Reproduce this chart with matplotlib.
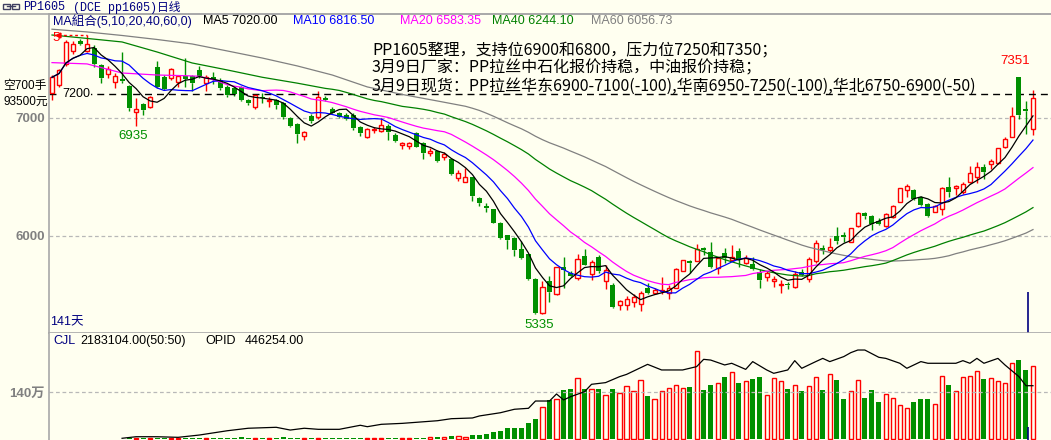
import numpy as np
import pandas as pd
import matplotlib.pyplot as plt
from matplotlib.patches import Rectangle
from matplotlib.lines import Line2D

W, H = 1051, 440
BG = '#FFFFF0'
RED = '#FF0000'
GRN = '#009000'
NAVY = '#000080'
GRID = '#B8B8B8'

plt.rcParams['font.family'] = ['Liberation Sans', 'Noto Sans CJK SC']

# ---- daily candles (141 days) ----
opens = [7214, 7280, 7455, 7568, 7652, 7570, 7591, 7449, 7373, 7308,
         7330, 7271, 7049, 7119, 7090, 7435, 7350, 7336, 7308, 7356,
         7356, 7407, 7294, 7345, 7322, 7260, 7250, 7260, 7152, 7096,
         7180, 7145, 7152, 7125, 6997, 6949, 6850, 7020, 7006, 7172,
         7080, 7040, 7025, 7025, 6921, 6836, 6895, 6893, 6932, 6856,
         6772, 6763, 6870, 6786, 6701, 6723, 6667, 6652, 6494, 6460,
         6497, 6325, 6250, 6226, 6113, 6008, 5986, 5890, 5847, 5636,
         5345, 5619, 5508, 5735, 5689, 5641, 5830, 5675, 5825, 5621,
         5585, 5415, 5418, 5443, 5424, 5557, 5514, 5530, 5514, 5562,
         5706, 5790, 5791, 5895, 5867, 5726, 5859, 5797, 5876, 5769,
         5763, 5698, 5650, 5622, 5586, 5592, 5570, 5698, 5633, 5791,
         5895, 5881, 6000, 6008, 5952, 6085, 6192, 6169, 6130, 6085,
         6164, 6291, 6390, 6390, 6328, 6271, 6206, 6226, 6418, 6404,
         6376, 6460, 6497, 6582, 6610, 6616, 6752, 6842, 7345, 7076,
         6904]
highs = [7360, 7415, 7660, 7650, 7665, 7700, 7620, 7460, 7440, 7380,
         7560, 7280, 7170, 7130, 7185, 7485, 7360, 7420, 7365, 7506,
         7360, 7440, 7360, 7390, 7340, 7280, 7260, 7275, 7160, 7205,
         7210, 7180, 7160, 7135, 7010, 6960, 6890, 7030, 7231, 7190,
         7090, 7050, 7040, 7040, 6930, 6915, 6925, 6997, 6945, 6870,
         6800, 6800, 6880, 6800, 6745, 6730, 6710, 6660, 6560, 6580,
         6500, 6330, 6280, 6230, 6115, 6010, 5990, 5960, 5850, 5640,
         5615, 5660, 5735, 5820, 5700, 5850, 5890, 5800, 5835, 5750,
         5605, 5460, 5490, 5505, 5535, 5600, 5555, 5650, 5585, 5725,
         5800, 5800, 5930, 5910, 5950, 5825, 5895, 5925, 5895, 5840,
         5825, 5720, 5700, 5665, 5625, 5610, 5700, 5720, 5820, 5970,
         5925, 5985, 6080, 6030, 6070, 6200, 6205, 6175, 6155, 6195,
         6265, 6410, 6440, 6400, 6340, 6280, 6265, 6415, 6500, 6430,
         6460, 6590, 6625, 6610, 6650, 6745, 6835, 7090, 7351, 7147,
         7237]
lows = [7150, 7265, 7440, 7545, 7620, 7560, 7430, 7300, 7340, 7250,
        7300, 7060, 6935, 7025, 7085, 7250, 7235, 7320, 7260, 7260,
        7230, 7340, 7230, 7290, 7240, 7180, 7190, 7140, 7110, 7080,
        7130, 7095, 7075, 6995, 6925, 6785, 6810, 6960, 6995, 7140,
        7030, 7000, 6980, 6900, 6850, 6830, 6870, 6885, 6810, 6800,
        6740, 6740, 6750, 6652, 6680, 6630, 6640, 6520, 6470, 6460,
        6300, 6250, 6205, 6110, 5978, 5887, 5830, 5805, 5630, 5335,
        5340, 5440, 5500, 5560, 5650, 5630, 5750, 5630, 5690, 5550,
        5390, 5370, 5370, 5400, 5360, 5505, 5505, 5510, 5465, 5555,
        5700, 5690, 5785, 5840, 5725, 5680, 5770, 5790, 5740, 5765,
        5710, 5560, 5620, 5570, 5520, 5550, 5555, 5660, 5610, 5775,
        5850, 5855, 5930, 5945, 5945, 6080, 6140, 6050, 6090, 6080,
        6155, 6285, 6330, 6305, 6250, 6160, 6200, 6180, 6330, 6345,
        6355, 6450, 6450, 6480, 6570, 6610, 6745, 6835, 6990, 6864,
        6856]
closes = [7345, 7407, 7647, 7625, 7630, 7627, 7455, 7336, 7415, 7356,
          7316, 7082, 7074, 7070, 7180, 7260, 7243, 7413, 7356, 7328,
          7300, 7356, 7345, 7320, 7252, 7195, 7200, 7152, 7130, 7195,
          7165, 7155, 7110, 7006, 6935, 6862, 6879, 6975, 7180, 7152,
          7040, 7010, 6990, 6912, 6876, 6904, 6905, 6941, 6884, 6808,
          6786, 6786, 6757, 6701, 6723, 6636, 6695, 6525, 6536, 6503,
          6342, 6277, 6237, 6113, 5980, 5966, 5881, 5811, 5636, 5350,
          5565, 5528, 5735, 5710, 5660, 5802, 5754, 5777, 5700, 5712,
          5396, 5449, 5463, 5480, 5514, 5514, 5543, 5540, 5562, 5718,
          5794, 5772, 5887, 5880, 5735, 5811, 5811, 5825, 5803, 5811,
          5720, 5627, 5684, 5632, 5597, 5583, 5678, 5672, 5802, 5943,
          5882, 5909, 5960, 5990, 6065, 6192, 6166, 6102, 6105, 6186,
          6254, 6404, 6424, 6311, 6263, 6169, 6250, 6404, 6370, 6424,
          6441, 6537, 6582, 6545, 6633, 6743, 6819, 7017, 7025, 7060,
          7167]
volumes = [0, 0, 0, 0, 0, 0, 0, 0, 0, 0,
           0, 15000, 25000, 25000, 20000, 25000, 25000, 20000, 20000, 25000,
           25000, 30000, 30000, 30000, 30000, 30000, 35000, 65000, 35000, 30000,
           25000, 30000, 40000, 55000, 35000, 30000, 25000, 30000, 30000, 30000,
           30000, 30000, 30000, 30000, 30000, 30000, 30000, 30000, 30000, 30000,
           30000, 30000, 30000, 35000, 60000, 70000, 50000, 90000, 90000, 55000,
           120000, 120000, 150000, 200000, 250000, 340000, 340000, 340000, 467000, 596000,
           943000, 1160000, 1190000, 1460000, 1490000, 1810000, 1490000, 1480000, 1490000, 1310000,
           1490000, 1380000, 1580000, 1430000, 1760000, 1280000, 1190000, 1430000, 1510000, 1610000,
           1510000, 1550000, 2620000, 1460000, 1610000, 1670000, 1850000, 2000000, 1680000, 1730000,
           1790000, 1850000, 1300000, 1810000, 1730000, 1490000, 1600000, 1430000, 1580000, 1840000,
           1460000, 1940000, 1760000, 1190000, 1430000, 1750000, 1220000, 1460000, 1100000, 1340000,
           1220000, 1010000, 910000, 1100000, 1190000, 1190000, 1040000, 1880000, 1610000, 1430000,
           1850000, 1880000, 2030000, 1790000, 1820000, 1730000, 1670000, 2260000, 2350000, 2060000,
           2183104]

# long MAs before enough days are on screen
ma20_head_idx = [0, 5, 10, 15]
ma20_head = [7469, 7458, 7381, 7364]
ma40_head_idx = [0, 5, 10, 15, 20, 25, 30, 35]
ma40_head = [7703, 7674, 7644, 7559, 7466, 7407, 7345, 7295]
ma60_head_idx = [0, 5, 10, 15, 20, 25, 30, 35, 40, 45, 50, 55]
ma60_head = [7752, 7729, 7699, 7665, 7627, 7568, 7508, 7441, 7364, 7263, 7199, 7144]

# open interest (OPID)
opid_idx = [10, 12, 15, 18, 21, 25, 28, 32, 34, 36, 38, 41, 44, 45, 47, 50, 55, 57, 60, 61,
            64, 66, 68, 69, 71, 72, 73, 74, 76, 77, 79, 81, 82, 85, 87, 90, 92, 93, 94, 96,
            97, 99, 100, 102, 103, 105, 106, 107, 109, 110, 111, 113, 114, 115, 116, 118, 119, 121, 122, 124,
            125, 127, 129, 130, 131, 132, 133, 135, 136, 138, 139, 140]
opid_val = [6000, 19000, 19000, 14000, 33000, 69000, 90000, 98000, 75000, 90000,
            81000, 81000, 115000, 103000, 123000, 131000, 153000, 170000, 176000, 193000,
            220000, 249000, 257000, 318000, 318000, 377000, 327000, 354000, 396000, 458000,
            472000, 522000, 541000, 625000, 578000, 578000, 606000, 667000, 661000, 620000,
            634000, 583000, 648000, 578000, 550000, 578000, 656000, 592000, 648000, 675000,
            648000, 690000, 723000, 745000, 745000, 684000, 675000, 634000, 592000, 648000,
            634000, 634000, 634000, 656000, 634000, 675000, 634000, 675000, 620000, 522000,
            446254, 446254]

o = np.array(opens, float)
h = np.array(highs, float)
l = np.array(lows, float)
c = np.array(closes, float)
v = np.array(volumes, float)
n = len(c)
x = np.arange(n)
up = c >= o

cs = pd.Series(c)
ma5 = cs.rolling(5, min_periods=1).mean()
ma10 = cs.rolling(10, min_periods=1).mean()


def long_ma(win, head_idx, head_vals):
    m = cs.rolling(win).mean()
    xs = list(head_idx) + list(range(win - 1, n))
    ys = list(head_vals) + list(m.iloc[win - 1:])
    return xs, ys


fig = plt.figure(figsize=(W / 100, H / 100), dpi=100, facecolor=BG)

x0, x1 = 49, 1051
top, sep = 14, 332.5
ax = fig.add_axes([x0 / W, 1 - sep / H, (x1 - x0) / W, (sep - top) / H], facecolor=BG)
axv = fig.add_axes([x0 / W, 0, (x1 - x0) / W, (H - sep) / H], facecolor=BG)

xl = ((x0 - 52) / 7.007, (x1 - 52) / 7.007)
for a in (ax, axv):
    a.set_xlim(*xl)
    a.set_xticks([])
    for s in ('top', 'right', 'bottom'):
        a.spines[s].set_visible(False)
    a.spines['left'].set_color('#A8A8A8')
    a.spines['left'].set_linewidth(1.2)

ax.spines['bottom'].set_visible(True)
ax.spines['bottom'].set_color('#A8A8A8')
ax.spines['bottom'].set_linewidth(1.2)
ax.spines['top'].set_visible(True)
ax.spines['top'].set_color('#A8A8A8')
ax.spines['top'].set_linewidth(1.2)

ax.set_ylim(5182, 7881)
ax.set_yticks([6000, 7000])
ax.set_yticklabels(['6000', '7000'], fontweight='bold', fontsize=9.5)
axv.set_ylim(-30000, 3172000)
axv.set_yticks([1400000])
axv.set_yticklabels(['140万'], fontweight='bold', fontsize=9.5)
for a in (ax, axv):
    a.tick_params(axis='y', length=0, pad=3, labelcolor='#808080')
    a.grid(axis='y', color=GRID, lw=0.9, dashes=(3, 2.2))

# candles
col = np.where(up, RED, GRN)
bhi = np.maximum(o, c)
blo = np.minimum(o, c)
bh = np.maximum(bhi - blo, 7)
ax.vlines(x, bhi, h, colors=col, lw=1)
ax.vlines(x, l, blo, colors=col, lw=1)
ax.vlines(x[~up], blo[~up], bhi[~up], colors=GRN, lw=1)
ax.bar(x[up], bh[up], bottom=blo[up], width=0.58, facecolor=BG, edgecolor=RED, linewidth=1, zorder=3)
ax.bar(x[~up], bh[~up], bottom=blo[~up], width=0.72, color=GRN, linewidth=0, zorder=3)

# moving averages
xs60, ys60 = long_ma(60, ma60_head_idx, ma60_head)
xs40, ys40 = long_ma(40, ma40_head_idx, ma40_head)
xs20, ys20 = long_ma(20, ma20_head_idx, ma20_head)
ax.plot(xs60, ys60, color='#808080', lw=0.9, zorder=4)
ax.plot(xs40, ys40, color='#008000', lw=0.9, zorder=4)
ax.plot(xs20, ys20, color='#FF00FF', lw=0.9, zorder=4)
ax.plot(x, ma10, color='#0000FF', lw=0.9, zorder=4)
ax.plot(x, ma5, color='black', lw=0.9, zorder=4)

# 7200 line
ax.axhline(7200, color='black', lw=1, dashes=(5, 3.6), zorder=2)
ax.text(0.013, 7200, '7200', transform=ax.get_yaxis_transform(), fontsize=9,
        va='center', ha='left', bbox=dict(facecolor=BG, edgecolor='none', pad=0.5), zorder=5)

# high / low marks
ax.annotate('7351', (138, h[138]), xytext=(-3, 7), textcoords='offset points',
            ha='center', va='bottom', color=RED, fontsize=9.5)
ax.annotate('6935', (12, l[12]), xytext=(-2, -3), textcoords='offset points',
            ha='center', va='top', color=GRN, fontsize=9.5)
ax.annotate('5335', (69, l[69]), xytext=(3, -3), textcoords='offset points',
            ha='center', va='top', color=GRN, fontsize=9.5)
ax.plot([0.9, 5], [h[5], h[5]], color=RED, lw=1, dashes=(2, 2), zorder=5)
ax.plot([0.9], [h[5]], marker='<', color=RED, ms=3.5, zorder=5)

# cursor
cur = 139.3
ax.vlines(cur, 5182, 5525, colors=NAVY, lw=1.2)
axv.vlines(cur, -30000, 360000, colors=NAVY, lw=1.2)

# volume + open interest
m_up = up & (v > 0)
m_dn = (~up) & (v > 0)
axv.bar(x[m_up], v[m_up], width=0.6, facecolor=BG, edgecolor=RED, linewidth=1)
axv.bar(x[m_dn], v[m_dn], width=0.72, color=GRN, linewidth=0)
axo = axv.twinx()
axo.set_ylim(-8373, 891700)
axo.set_xlim(*xl)
axo.axis('off')
axo.plot(opid_idx, opid_val, color='black', lw=0.9)


def put(px, py, s, **kw):
    kw.setdefault('fontsize', 9)
    fig.text(px / W, 1 - py / H, s, va='center', ha=kw.pop('ha', 'left'), **kw)


# header
fig.add_artist(Line2D([0, 1], [1 - 14 / H] * 2, color='#A8A8A8', lw=1.2))
for rx in (3, 12):
    fig.add_artist(Rectangle((rx / W, 1 - 9 / H), 7 / W, 5 / H, fill=False,
                             ec='#404060', lw=1, transform=fig.transFigure))
fig.add_artist(Line2D([7 / W, 15 / W], [1 - 6.5 / H] * 2, color='#404060', lw=1))
mono = ['Liberation Mono', 'Noto Sans CJK SC']
put(23, 7, 'PP1605', color=NAVY, family=mono, fontsize=8.5)
put(73, 7, '(DCE pp1605)日线', color=NAVY, family=mono, fontsize=8.5)

# MA legend
put(53, 21, 'MA組合(5,10,20,40,60,0)', color=NAVY, fontsize=9)
put(203, 21, 'MA5 7020.00', color='black')
put(293, 21, 'MA10 6816.50', color='#0000FF')
put(400, 21, 'MA20 6583.35', color='#FF00FF')
put(492, 21, 'MA40 6244.10', color='#008000')
put(591, 21, 'MA60 6056.73', color='#808080')

# notes
cjk = ['Noto Sans CJK SC']
notes = ['PP1605整理，支持位6900和6800，压力位7250和7350；',
         '3月9日厂家：PP拉丝中石化报价持稳，中油报价持稳；',
         '3月9日现货：PP拉丝华东6900-7100(-100),华南6950-7250(-100),华北6750-6900(-50)']
for k, s in enumerate(notes):
    put(372, 50 + 18 * k, s, family=cjk, fontsize=11.5, color='black')

put(52, 38, '5', color=RED, fontsize=9.5)
put(3, 86, '空700手', color='black', fontsize=8.5)
put(4, 102, '93500元', color='black', fontsize=8.5)
put(50, 322, '141天', color=NAVY, fontsize=9)

# volume header
put(53, 341, 'CJL', color=NAVY)
put(80, 341, '2183104.00(50:50)', color='black')
put(205, 341, 'OPID', color='black')
put(245, 341, '446254.00', color='black')

fig.savefig('out.png', dpi=100, facecolor=BG)
